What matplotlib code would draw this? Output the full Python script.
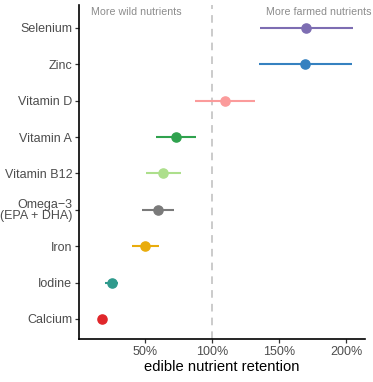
import matplotlib
matplotlib.use("Agg")
import matplotlib.pyplot as plt
from matplotlib.ticker import FuncFormatter

plt.rcParams["font.family"] = ["Liberation Sans", "DejaVu Sans"]

nutrients = ["Calcium", "Iodine", "Iron", "Omega\u22123\n(EPA + DHA)", "Vitamin B12",
             "Vitamin A", "Vitamin D", "Zinc", "Selenium"]
estimate = [17.7, 25.6, 50.0, 59.5, 63.2, 73.1, 109.2, 169.4, 169.9]
lower = [17.7, 20.4, 40.1, 47.3, 50.5, 58.2, 87.1, 134.8, 135.3]
upper = [17.7, 29.9, 60.4, 71.4, 76.4, 88.1, 131.6, 204.2, 204.7]
colors = ["#e0262a", "#2e9a8c", "#e9ac0c", "#7a7a7a", "#addf8c",
          "#2fa24e", "#fb9b9b", "#3581c0", "#7d6db2"]
xticks = [50, 100, 150, 200]

fig = plt.figure(figsize=(3.73, 3.82), dpi=100)
ax = fig.add_axes([0.212, 0.1126, 0.767, 0.8744])

ax.axvline(100, color="#bdbdbd", lw=1.1, ls=(0, (5, 4)), zorder=1)
for i, (e, lo, hi, c) in enumerate(zip(estimate, lower, upper, colors)):
    ax.plot([lo, hi], [i, i], color=c, lw=1.5, solid_capstyle="butt", zorder=2)
    ax.plot([e], [i], "o", color=c, ms=6.6, mec=c, zorder=3)

ax.set_xlim(0.7, 214)
ax.set_ylim(-0.55, 8.63)
ax.set_yticks(range(len(nutrients)))
ax.set_yticklabels(nutrients, linespacing=0.9)
ax.set_xticks(xticks)
ax.xaxis.set_major_formatter(FuncFormatter(lambda v, p: f"{v:.0f}%"))
ax.tick_params(axis="both", labelsize=9, labelcolor="#4d4d4d", length=3,
               width=0.9, color="#333333", pad=2)
for s in ["top", "right"]:
    ax.spines[s].set_visible(False)
for s in ["left", "bottom"]:
    ax.spines[s].set_linewidth(1.2)
    ax.spines[s].set_color("black")
ax.set_xlabel("edible nutrient retention", fontsize=10.6, color="black", labelpad=1.5)

ax.text(9.5, 8.45, "More wild nutrients", fontsize=7.7, color="#8c8c8c",
        ha="left", va="center", clip_on=False)
ax.text(179.5, 8.45, "More farmed nutrients", fontsize=7.7, color="#8c8c8c",
        ha="center", va="center", clip_on=False)

fig.savefig("out.png", dpi=100)
